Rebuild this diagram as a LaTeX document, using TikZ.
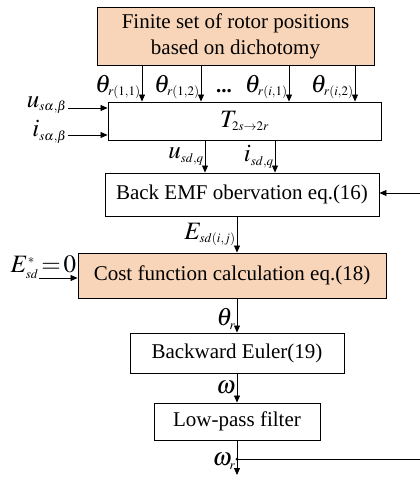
\documentclass[tikz,border=0pt]{standalone}
\usepackage{mathptmx}
\usepackage{fontspec}
\setmainfont{Liberation Serif}
\DeclareMathSizes{25}{25}{13}{9}
\usetikzlibrary{arrows.meta,positioning}
\definecolor{peach}{RGB}{248,213,184}
\tikzset{
  blk/.style={draw, line width=0.9pt, inner sep=2pt, align=center},
  hot/.style={blk, fill=peach},
  sig/.style={-{Triangle[length=7pt,width=6pt]}, line width=0.8pt},
  lbl/.style={inner sep=1pt, font=\fontsize{25}{30}\selectfont}
}

\begin{document}
\begin{tikzpicture}[x=1pt,y=-1pt,font=\fontsize{21}{26}\selectfont]
   \useasboundingbox (0,0) rectangle (420,479);
   % blocks
   \node[hot, minimum width=277pt, minimum height=58pt] (fset)  at (235.5,36)  {Finite set of rotor positions\\based on dichotomy};
   \node[blk, minimum width=273pt, minimum height=38pt, font=\fontsize{25}{30}\selectfont] (trans) at (244.5,121) {$T_{2s\rightarrow 2r}$};
   \node[blk, minimum width=274pt, minimum height=43pt] (emf)   at (242,194.5) {Back EMF obervation eq.(16)};
   \node[hot, minimum width=308pt, minimum height=45pt] (cost)  at (232,275.5) {Cost function calculation eq.(18)};
   \node[blk, minimum width=214pt, minimum height=40pt] (euler) at (237,353)   {Backward Euler(19)};
   \node[blk, minimum width=166pt, minimum height=37pt] (lpf)   at (237,421.5) {Low-pass filter};
   % helper points
   \coordinate (axis)  at (237,0);
   \coordinate (uin)   at (68,108);
   \coordinate (iin)   at (68,135);
   \coordinate (estar) at (39,278);
   \coordinate (redge) at (420,193);
   \coordinate (tapw)  at (237,459);
   \coordinate (wout)  at (237,475);
   \coordinate (ud)    at (205,0);
   \coordinate (id)    at (275,0);
   % candidate positions
   \foreach \xp/\lab in {142/{r(1,1)}, 201/{r(1,2)}, 289/{r(i,1)}, 355/{r(i,2)}} {
      \coordinate (tap) at (\xp,0);
      \draw[sig] (fset.south -| tap) -- node[lbl, left, pos=0.6] {$\theta_{\lab}$} (trans.north -| tap);
   }
   \node[inner sep=0pt] (dots) at (224,91) {\textbf{...}};
   % signals
   \draw[sig] (uin) node[lbl, left, yshift=3pt] {$u_{s\alpha,\beta}$} -- (trans.west |- uin);
   \draw[sig] (iin) node[lbl, left, yshift=3pt] {$i_{s\alpha,\beta}$} -- (trans.west |- iin);
   \draw[sig] (trans.south -| ud) -- node[lbl, left] {$u_{sd,q}$} (emf.north -| ud);
   \draw[sig] (trans.south -| id) -- node[lbl, left] {$i_{sd,q}$} (emf.north -| id);
   \draw[sig] (redge) -- (emf.east |- redge);
   \draw[sig] (emf.south -| axis) -- node[lbl, left] {$E_{sd(i,j)}$} (cost.north -| axis);
   \draw[sig] (estar) -- node[lbl, above left, pos=1, yshift=-2pt] {$E^{*}_{sd}\!=\!0$} (cost.west |- estar);
   \draw[sig] (cost.south -| axis) -- node[lbl, left, pos=0.6] {$\theta_r$} (euler.north -| axis);
   \draw[sig] (euler.south -| axis) -- node[lbl, left] {$\omega$} (lpf.north -| axis);
   \draw[sig] (lpf.south -| axis) -- node[lbl, left, pos=0.6] {$\omega_r$} (wout);
   \fill (tapw) circle (1.5pt);
   \draw[line width=0.8pt] (tapw) -- (tapw -| redge);
\end{tikzpicture}
\end{document}
